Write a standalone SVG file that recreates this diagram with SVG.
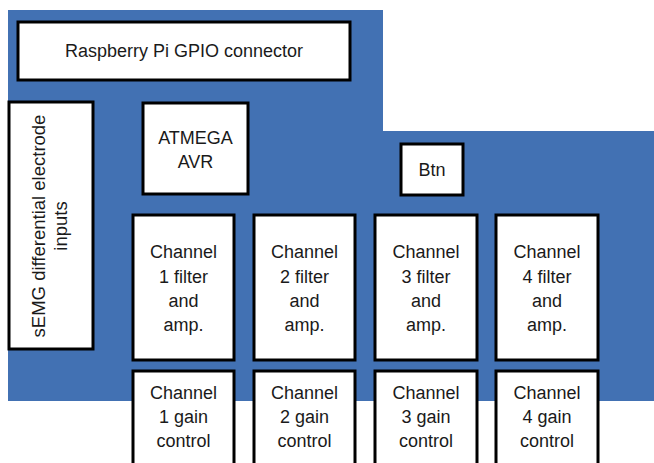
<svg xmlns="http://www.w3.org/2000/svg" width="654" height="463" viewBox="0 0 654 463">
<style>
.box{fill:#fff;stroke:#000;stroke-width:3}
.t{font-family:"Liberation Sans",Arial,sans-serif;font-size:18px;fill:#1a1a1a;text-anchor:middle}
</style>
<rect width="654" height="463" fill="#fff"/>
<path d="M8 10 H383 V131 H654 V401 H8 Z" fill="#4271b3"/>
<g id="connectors"/>
<g id="gpio"><rect class="box" x="18" y="22" width="332" height="58"/><text class="t" x="184" y="57">Raspberry Pi GPIO connector</text></g>
<g id="semg"><rect class="box" x="9" y="102" width="84" height="247"/>
<text class="t" style="font-size:18.5px" transform="translate(45,226) rotate(-90)">sEMG differential electrode</text>
<text class="t" style="font-size:18.5px" transform="translate(67,226) rotate(-90)">inputs</text></g>
<g id="atmega"><rect class="box" x="143" y="103" width="105" height="91"/><text class="t" x="195.5" y="144">ATMEGA</text><text class="t" x="195.5" y="168">AVR</text></g>
<g id="btn"><rect class="box" x="401" y="144" width="62" height="51"/><text class="t" x="432" y="176">Btn</text></g>
<g id="ch1"><rect class="box" x="133" y="215" width="101" height="145"/><text class="t" x="183.5" y="258">Channel</text><text class="t" x="183.5" y="283">1 filter</text><text class="t" x="183.5" y="307">and</text><text class="t" x="183.5" y="331">amp.</text></g>
<g id="ch2"><rect class="box" x="254" y="215" width="101" height="145"/><text class="t" x="304.5" y="258">Channel</text><text class="t" x="304.5" y="283">2 filter</text><text class="t" x="304.5" y="307">and</text><text class="t" x="304.5" y="331">amp.</text></g>
<g id="ch3"><rect class="box" x="375" y="215" width="102" height="145"/><text class="t" x="426" y="258">Channel</text><text class="t" x="426" y="283">3 filter</text><text class="t" x="426" y="307">and</text><text class="t" x="426" y="331">amp.</text></g>
<g id="ch4"><rect class="box" x="496" y="215" width="102" height="145"/><text class="t" x="547" y="258">Channel</text><text class="t" x="547" y="283">4 filter</text><text class="t" x="547" y="307">and</text><text class="t" x="547" y="331">amp.</text></g>
<g id="g1"><rect class="box" x="133" y="371" width="101" height="100"/><text class="t" x="183.5" y="399">Channel</text><text class="t" x="183.5" y="423">1 gain</text><text class="t" x="183.5" y="447">control</text></g>
<g id="g2"><rect class="box" x="254" y="371" width="101" height="100"/><text class="t" x="304.5" y="399">Channel</text><text class="t" x="304.5" y="423">2 gain</text><text class="t" x="304.5" y="447">control</text></g>
<g id="g3"><rect class="box" x="375" y="371" width="102" height="100"/><text class="t" x="426" y="399">Channel</text><text class="t" x="426" y="423">3 gain</text><text class="t" x="426" y="447">control</text></g>
<g id="g4"><rect class="box" x="496" y="371" width="102" height="100"/><text class="t" x="547" y="399">Channel</text><text class="t" x="547" y="423">4 gain</text><text class="t" x="547" y="447">control</text></g>
</svg>
